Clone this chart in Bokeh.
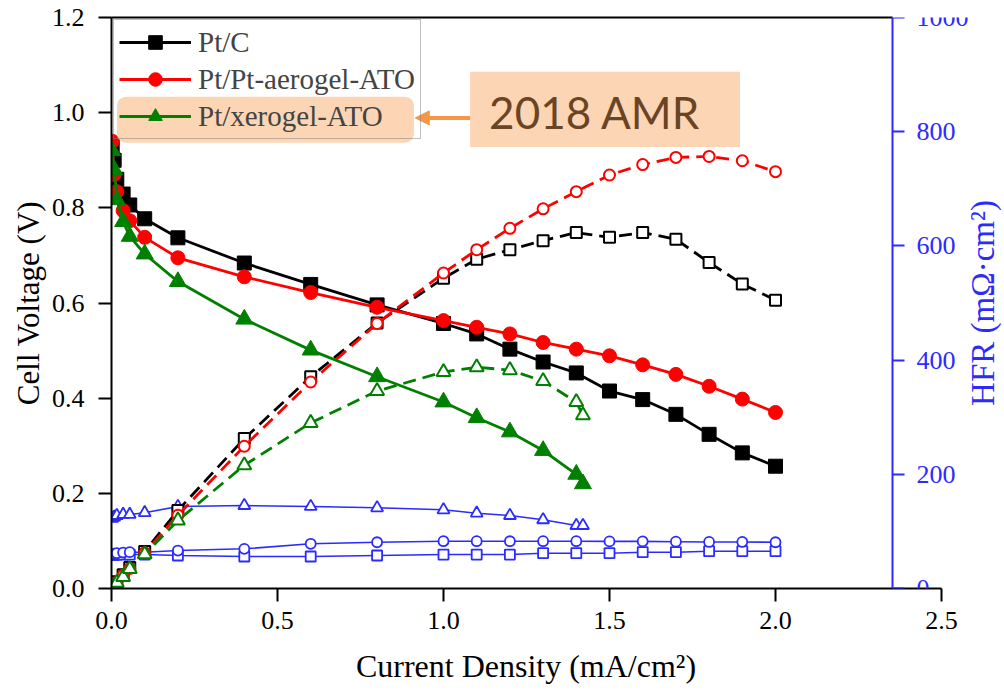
from bokeh.plotting import figure
from bokeh.models import (Range1d, LinearAxis, FixedTicker, PrintfTickFormatter, Legend,
                          LegendItem, BoxAnnotation, Label, Arrow, NormalHead, ColumnDataSource)
from bokeh.embed import file_html
from bokeh.resources import INLINE
import math

# ---------------- data ----------------
ptc_j = [0.002, 0.008, 0.016, 0.035, 0.055, 0.1, 0.2, 0.4, 0.6, 0.8, 1.0, 1.1, 1.2, 1.3, 1.4, 1.5, 1.6, 1.7, 1.8, 1.9, 2.0]
ptc_v = [0.93, 0.90, 0.86, 0.829, 0.806, 0.777, 0.737, 0.684, 0.639, 0.596, 0.557, 0.535, 0.503, 0.476, 0.453, 0.415, 0.397, 0.366, 0.324, 0.285, 0.257]
ptc_p = [0.002, 0.007, 0.014, 0.029, 0.044, 0.078, 0.164, 0.315, 0.445, 0.558, 0.652, 0.692, 0.712, 0.731, 0.748, 0.738, 0.748, 0.734, 0.685, 0.640, 0.606]
ptc_hfr = [59, 59, 59.5, 59.5, 59.5, 59.5, 57.8, 56, 56, 57.8, 59.5, 59.5, 59.5, 61.8, 61.8, 61.8, 63.6, 63.6, 65.3, 65.3, 65.3]

aero_j = [0.002, 0.008, 0.016, 0.035, 0.055, 0.1, 0.2, 0.4, 0.6, 0.8, 1.0, 1.1, 1.2, 1.3, 1.4, 1.5, 1.6, 1.7, 1.8, 1.9, 2.0]
aero_v = [0.94, 0.87, 0.834, 0.794, 0.773, 0.738, 0.695, 0.655, 0.622, 0.591, 0.563, 0.549, 0.535, 0.517, 0.503, 0.489, 0.470, 0.450, 0.425, 0.398, 0.370]
aero_p = [0.002, 0.007, 0.013, 0.028, 0.042, 0.075, 0.154, 0.299, 0.434, 0.557, 0.663, 0.712, 0.757, 0.798, 0.834, 0.869, 0.891, 0.906, 0.908, 0.899, 0.876]
aero_hfr = [60, 61, 61.8, 63, 63.6, 63.6, 66.5, 69.5, 78.3, 81, 82.8, 82.8, 82.8, 82.8, 82.8, 82.5, 82.5, 82, 81.5, 81.5, 81]

xero_j = [0.002, 0.008, 0.016, 0.035, 0.055, 0.1, 0.2, 0.4, 0.6, 0.8, 1.0, 1.1, 1.2, 1.3, 1.4, 1.42]
xero_v = [0.92, 0.88, 0.817, 0.771, 0.74, 0.703, 0.645, 0.566, 0.501, 0.445, 0.392, 0.359, 0.329, 0.29, 0.24, 0.22]
xero_p = [0.002, 0.006, 0.012, 0.024, 0.041, 0.072, 0.143, 0.259, 0.348, 0.415, 0.455, 0.465, 0.459, 0.436, 0.392, 0.364]
xero_hfr = [123, 125, 127.8, 129.6, 129.6, 132.7, 143.6, 145.3, 143.6, 141.3, 137.8, 131.9, 127.8, 120.3, 110.3, 110.3]

series_names = ["Pt/C", "Pt/Pt-aerogel-ATO", "Pt/xerogel-ATO"]
x_ticks = [0.0, 0.5, 1.0, 1.5, 2.0, 2.5]
v_ticks = [0.0, 0.2, 0.4, 0.6, 0.8, 1.0, 1.2]
hfr_ticks = [0, 200, 400, 600, 800, 1000]
annotation_text = "2018 AMR"
x_title = "Current Density (mA/cm²)"
y_title = "Cell Voltage (V)"
hfr_title = "HFR (mΩ·cm²)"

# ---------------- figure ----------------
SERIF = "Liberation Serif"
BLUE = "#2b2bff"
ORANGE = "#F79646"
PEACH = "#FCD5B5"

X_END = 893 / 332.0          # frame runs to the right edge of the canvas
HFR_AXIS_X = 781 / 332.0     # where the blue HFR axis stands (data units)

p = figure(width=1004, height=693, output_backend="svg", toolbar_location=None,
           x_range=Range1d(0, X_END), y_range=Range1d(0, 1.2),
           min_border_left=111, min_border_right=0, min_border_top=17, min_border_bottom=105)
p.xgrid.visible = False
p.ygrid.visible = False
p.outline_line_color = None
p.background_fill_color = "white"
p.border_fill_color = "white"

def style_axis(ax, color, tick_size, title_size):
    ax.axis_line_color = color
    ax.axis_line_width = 2
    ax.major_tick_line_color = color
    ax.major_tick_line_width = 2
    ax.major_tick_out = 13
    ax.major_tick_in = 0
    ax.minor_tick_line_color = None
    ax.major_label_text_font = SERIF
    ax.major_label_text_font_size = tick_size
    ax.major_label_text_color = color
    ax.axis_label_text_font = SERIF
    ax.axis_label_text_font_size = title_size
    ax.axis_label_text_font_style = "normal"
    ax.axis_label_text_color = color

xa = p.xaxis[0]
style_axis(xa, "black", "26px", "32px")
xa.ticker = FixedTicker(ticks=x_ticks)
xa.formatter = PrintfTickFormatter(format="%.1f")
xa.bounds = (0, 2.5)
# centred under the 0-2.5 axis span (the frame runs further right)
xa.axis_label = x_title + "\u00a0" * 8
xa.major_label_standoff = 10
xa.axis_label_standoff = 16

ya = p.yaxis[0]
style_axis(ya, "black", "26px", "31px")
ya.ticker = FixedTicker(ticks=v_ticks)
ya.formatter = PrintfTickFormatter(format="%.1f")
ya.axis_label = y_title
ya.major_label_standoff = 14
ya.axis_label_standoff = 3

# top frame line, ending at the HFR axis
top = LinearAxis(bounds=(0, HFR_AXIS_X), ticker=FixedTicker(ticks=[]),
                 axis_line_color="black", axis_line_width=2,
                 major_tick_line_color=None, minor_tick_line_color=None,
                 major_label_text_font_size="0px")
p.add_layout(top, "above")

p.extra_y_ranges = {"hfr": Range1d(0, 1000)}
ra = LinearAxis(y_range_name="hfr", fixed_location=HFR_AXIS_X)
style_axis(ra, BLUE, "26px", "31px")
ra.major_tick_out = 12
ra.ticker = FixedTicker(ticks=hfr_ticks)
ra.major_label_standoff = 12
p.add_layout(ra, "right")

p.add_layout(Label(x=871 / 332.0, y=500, y_range_name="hfr", text=hfr_title, angle=math.pi / 2,
                   text_align="center", text_baseline="middle", text_font=SERIF,
                   text_font_size="33px", text_color=BLUE))

# ---------------- HFR (blue, open markers) ----------------
for j, h, mk in [(ptc_j, ptc_hfr, "square"), (aero_j, aero_hfr, "circle"), (xero_j, xero_hfr, "triangle")]:
    src = ColumnDataSource(dict(x=j, y=h))
    p.line("x", "y", source=src, y_range_name="hfr", line_color=BLUE, line_width=1.6)
    p.scatter("x", "y", source=src, y_range_name="hfr", marker=mk, size=10 if mk != "triangle" else 12,
              line_color=BLUE, line_width=1.8, fill_color="white")

# ---------------- dashed curves (open markers) ----------------
for j, pw, mk, col in [(ptc_j, ptc_p, "square", "black"), (aero_j, aero_p, "circle", "red"),
                       (xero_j, xero_p, "triangle", "green")]:
    src = ColumnDataSource(dict(x=j, y=pw))
    p.line("x", "y", source=src, line_color=col, line_width=2.8, line_dash="13 7")
    p.scatter("x", "y", source=src, marker=mk, size=11 if mk != "triangle" else 14,
              line_color=col, line_width=2, fill_color="white")

# ---------------- polarization curves (solid, filled markers) ----------------
legend_items = []
for name, j, v, mk, col in [(series_names[0], ptc_j, ptc_v, "square", "black"),
                            (series_names[1], aero_j, aero_v, "circle", "red"),
                            (series_names[2], xero_j, xero_v, "triangle", "green")]:
    src = ColumnDataSource(dict(x=j, y=v))
    lr = p.line("x", "y", source=src, line_color=col, line_width=2.8)
    sr = p.scatter("x", "y", source=src, marker=mk, size=14 if mk != "triangle" else 17,
                   line_color=col, fill_color=col)
    legend_items.append(LegendItem(label=name, renderers=[lr, sr]))

# ---------------- annotations ----------------
highlight = BoxAnnotation(left=0.0166, right=0.911, top=1.0337, bottom=0.937,
                          fill_color=PEACH, fill_alpha=1.0, line_color=None, border_radius=9)
p.add_layout(highlight)

legend = Legend(items=legend_items, location="top_left", margin=2, padding=5, spacing=3,
                label_height=34, glyph_height=34, glyph_width=72, label_standoff=7,
                label_text_font=SERIF, label_text_font_size="29px",
                border_line_color="#808080", border_line_width=1.5, background_fill_alpha=0.0)
p.add_layout(legend)

amr_box = BoxAnnotation(left=1.08, right=1.893, top=1.086, bottom=0.928,
                        fill_color=PEACH, fill_alpha=1.0, line_color=None)
p.add_layout(amr_box)
p.add_layout(Label(x=1.456, y=1.002, text=annotation_text, text_align="center",
                   text_baseline="middle", text_font="Lato", text_font_size="44px",
                   text_color="#6B4423"))
p.add_layout(Arrow(end=NormalHead(size=14, fill_color=ORANGE, line_color=ORANGE),
                   x_start=1.08, y_start=0.989, x_end=0.915, y_end=0.989,
                   line_color=ORANGE, line_width=4))

open("out.html", "w").write(file_html(p, INLINE))
